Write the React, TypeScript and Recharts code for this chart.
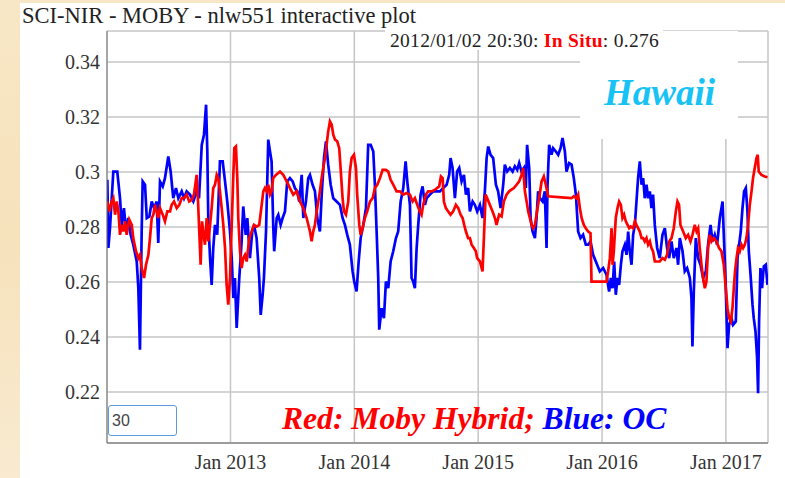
import { LineChart, Line, XAxis, YAxis, CartesianGrid } from 'recharts';

// [decimal year, nLw551]
const OC_POINTS: [number, number][] = [
  [2012.006, 0.2972], [2012.014, 0.2724], [2012.027, 0.2796], [2012.054, 0.3002], [2012.086, 0.3002],
  [2012.108, 0.2905], [2012.122, 0.2808], [2012.14, 0.2869], [2012.157, 0.2784], [2012.175, 0.2833],
  [2012.194, 0.2772], [2012.215, 0.2736], [2012.243, 0.2675], [2012.256, 0.2578], [2012.269, 0.2354],
  [2012.283, 0.2784], [2012.291, 0.2966], [2012.31, 0.2954], [2012.324, 0.2833], [2012.345, 0.2839],
  [2012.364, 0.2893], [2012.383, 0.2869], [2012.404, 0.2893], [2012.417, 0.2742], [2012.431, 0.2966],
  [2012.453, 0.2948], [2012.471, 0.2978], [2012.498, 0.3057], [2012.517, 0.3002], [2012.538, 0.2905],
  [2012.56, 0.2942], [2012.579, 0.2905], [2012.606, 0.293], [2012.625, 0.2905], [2012.646, 0.293],
  [2012.673, 0.2918], [2012.7, 0.2893], [2012.727, 0.293], [2012.746, 0.2905], [2012.768, 0.3099],
  [2012.786, 0.3136], [2012.803, 0.3245], [2012.813, 0.3075], [2012.821, 0.2821], [2012.835, 0.2687],
  [2012.848, 0.259], [2012.861, 0.2724], [2012.875, 0.2808], [2012.893, 0.2772], [2012.915, 0.3039],
  [2012.937, 0.3039], [2012.956, 0.2966], [2012.974, 0.2893], [2012.996, 0.2784], [2013.01, 0.2687],
  [2013.023, 0.2542], [2013.036, 0.2615], [2013.05, 0.2433], [2013.071, 0.2615], [2013.09, 0.2748],
  [2013.103, 0.2875], [2013.123, 0.2772], [2013.136, 0.2833], [2013.157, 0.2687], [2013.176, 0.2784],
  [2013.19, 0.2808], [2013.211, 0.276], [2013.232, 0.2615], [2013.244, 0.2481], [2013.26, 0.2554],
  [2013.27, 0.2615], [2013.287, 0.2784], [2013.305, 0.3118], [2013.319, 0.3075], [2013.332, 0.3039],
  [2013.345, 0.2808], [2013.353, 0.2712], [2013.373, 0.2833], [2013.386, 0.2845], [2013.405, 0.2808],
  [2013.421, 0.2833], [2013.44, 0.2857], [2013.458, 0.2966], [2013.48, 0.2978], [2013.502, 0.2966],
  [2013.52, 0.2942], [2013.539, 0.293], [2013.555, 0.2893], [2013.575, 0.299], [2013.588, 0.2833],
  [2013.609, 0.2893], [2013.628, 0.2978], [2013.642, 0.299], [2013.663, 0.2954], [2013.682, 0.293],
  [2013.701, 0.2833], [2013.722, 0.2784], [2013.738, 0.293], [2013.755, 0.3051], [2013.771, 0.3112],
  [2013.789, 0.3027], [2013.809, 0.2954], [2013.83, 0.2905], [2013.857, 0.2893], [2013.884, 0.2881],
  [2013.905, 0.2833], [2013.924, 0.2808], [2013.943, 0.2772], [2013.964, 0.2736], [2013.986, 0.2639],
  [2013.999, 0.2602], [2014.018, 0.2566], [2014.035, 0.2675], [2014.051, 0.276], [2014.072, 0.2808],
  [2014.094, 0.2869], [2014.112, 0.3099], [2014.132, 0.3099], [2014.153, 0.3075], [2014.166, 0.2954],
  [2014.18, 0.2784], [2014.193, 0.2615], [2014.201, 0.2427], [2014.22, 0.2505], [2014.239, 0.2469],
  [2014.255, 0.2602], [2014.274, 0.2578], [2014.293, 0.2675], [2014.314, 0.2712], [2014.336, 0.276],
  [2014.354, 0.2784], [2014.374, 0.2893], [2014.395, 0.2942], [2014.414, 0.3039], [2014.43, 0.2954],
  [2014.449, 0.2881], [2014.462, 0.2615], [2014.475, 0.2602], [2014.489, 0.2578], [2014.503, 0.2724],
  [2014.516, 0.2808], [2014.535, 0.2918], [2014.551, 0.2948], [2014.57, 0.2881], [2014.584, 0.2905],
  [2014.61, 0.2918], [2014.637, 0.293], [2014.664, 0.293], [2014.691, 0.293], [2014.718, 0.2942],
  [2014.745, 0.2954], [2014.766, 0.299], [2014.777, 0.3051], [2014.793, 0.3015], [2014.812, 0.2905],
  [2014.83, 0.3002], [2014.847, 0.3015], [2014.866, 0.2966], [2014.885, 0.299], [2014.901, 0.2918],
  [2014.919, 0.2942], [2014.933, 0.2857], [2014.955, 0.2893], [2014.973, 0.2881], [2014.992, 0.2857],
  [2015.014, 0.2881], [2015.035, 0.2833], [2015.054, 0.293], [2015.068, 0.3051], [2015.081, 0.3093],
  [2015.1, 0.3063], [2015.121, 0.3051], [2015.143, 0.2954], [2015.161, 0.293], [2015.181, 0.2869],
  [2015.202, 0.2954], [2015.215, 0.3027], [2015.234, 0.3002], [2015.256, 0.3015], [2015.278, 0.3002],
  [2015.296, 0.3021], [2015.315, 0.3008], [2015.331, 0.3033], [2015.35, 0.3002], [2015.369, 0.3015],
  [2015.385, 0.2942], [2015.395, 0.3099], [2015.412, 0.3015], [2015.423, 0.2833], [2015.439, 0.2784],
  [2015.458, 0.276], [2015.471, 0.2833], [2015.484, 0.293], [2015.498, 0.2905], [2015.52, 0.2893],
  [2015.538, 0.293], [2015.552, 0.2724], [2015.56, 0.2954], [2015.573, 0.3099], [2015.592, 0.3063],
  [2015.605, 0.3087], [2015.627, 0.3075], [2015.646, 0.3063], [2015.665, 0.3087], [2015.681, 0.3124],
  [2015.7, 0.3075], [2015.713, 0.3002], [2015.734, 0.3033], [2015.754, 0.3027], [2015.772, 0.2978],
  [2015.789, 0.2918], [2015.807, 0.2784], [2015.826, 0.276], [2015.847, 0.2772], [2015.869, 0.2736],
  [2015.888, 0.2736], [2015.907, 0.2748], [2015.928, 0.2699], [2015.95, 0.2675], [2015.982, 0.2639],
  [2016.009, 0.2651], [2016.036, 0.2627], [2016.057, 0.2566], [2016.071, 0.2615], [2016.085, 0.2578],
  [2016.098, 0.2675], [2016.111, 0.2554], [2016.125, 0.2615], [2016.138, 0.259], [2016.152, 0.2663],
  [2016.165, 0.2712], [2016.184, 0.2736], [2016.198, 0.2699], [2016.211, 0.2784], [2016.224, 0.2712],
  [2016.238, 0.2663], [2016.251, 0.2772], [2016.265, 0.2808], [2016.278, 0.2893], [2016.291, 0.2978],
  [2016.305, 0.3039], [2016.319, 0.2954], [2016.332, 0.2978], [2016.345, 0.2905], [2016.359, 0.2954],
  [2016.372, 0.2905], [2016.386, 0.293], [2016.399, 0.2869], [2016.412, 0.2918], [2016.426, 0.2808],
  [2016.445, 0.2724], [2016.466, 0.2687], [2016.488, 0.2772], [2016.507, 0.2796], [2016.525, 0.2724],
  [2016.542, 0.2687], [2016.561, 0.2748], [2016.579, 0.2687], [2016.601, 0.2724], [2016.614, 0.2663],
  [2016.628, 0.276], [2016.65, 0.2712], [2016.668, 0.2639], [2016.687, 0.2651], [2016.709, 0.2615],
  [2016.722, 0.2542], [2016.73, 0.2366], [2016.741, 0.2566], [2016.757, 0.276], [2016.776, 0.2687],
  [2016.795, 0.2663], [2016.816, 0.2615], [2016.838, 0.2639], [2016.856, 0.2736], [2016.876, 0.2808],
  [2016.892, 0.2748], [2016.91, 0.2772], [2016.929, 0.2736], [2016.951, 0.2833], [2016.973, 0.2893],
  [2016.983, 0.2772], [2016.997, 0.2615], [2017.005, 0.2481], [2017.013, 0.236], [2017.026, 0.2445],
  [2017.045, 0.2469], [2017.058, 0.2445], [2017.08, 0.2457], [2017.094, 0.2687], [2017.107, 0.2736],
  [2017.12, 0.2784], [2017.134, 0.2869], [2017.147, 0.293], [2017.161, 0.2942], [2017.174, 0.2857],
  [2017.185, 0.2712], [2017.199, 0.2627], [2017.215, 0.2518], [2017.225, 0.2469], [2017.239, 0.2421],
  [2017.252, 0.2324], [2017.26, 0.2196], [2017.268, 0.2457], [2017.279, 0.2651], [2017.292, 0.2578],
  [2017.306, 0.2657], [2017.322, 0.2663], [2017.336, 0.259],
];

const HYBRID_POINTS: [number, number][] = [
  [2012.006, 0.2893], [2012.022, 0.2857], [2012.041, 0.2893], [2012.054, 0.2905], [2012.068, 0.2845],
  [2012.082, 0.2893], [2012.095, 0.2857], [2012.108, 0.2772], [2012.122, 0.2808], [2012.135, 0.2784],
  [2012.149, 0.2821], [2012.162, 0.2772], [2012.183, 0.2827], [2012.203, 0.2808], [2012.215, 0.276],
  [2012.237, 0.2712], [2012.256, 0.2687], [2012.269, 0.2699], [2012.283, 0.2651], [2012.302, 0.2615],
  [2012.318, 0.2663], [2012.337, 0.2699], [2012.35, 0.276], [2012.364, 0.2833], [2012.377, 0.2845],
  [2012.391, 0.2881], [2012.404, 0.2857], [2012.417, 0.2833], [2012.431, 0.2869], [2012.453, 0.2845],
  [2012.471, 0.2821], [2012.49, 0.2857], [2012.512, 0.2857], [2012.525, 0.2881], [2012.544, 0.2893],
  [2012.566, 0.2869], [2012.587, 0.2881], [2012.606, 0.2905], [2012.625, 0.2905], [2012.646, 0.2918],
  [2012.667, 0.2893], [2012.687, 0.2899], [2012.705, 0.2918], [2012.727, 0.299], [2012.738, 0.2893],
  [2012.748, 0.2784], [2012.759, 0.2663], [2012.77, 0.2821], [2012.78, 0.2784], [2012.794, 0.2736],
  [2012.808, 0.2833], [2012.821, 0.2748], [2012.835, 0.2808], [2012.848, 0.2869], [2012.861, 0.2942],
  [2012.875, 0.2954], [2012.889, 0.299], [2012.901, 0.2978], [2012.915, 0.293], [2012.929, 0.2869],
  [2012.942, 0.2808], [2012.956, 0.2724], [2012.969, 0.259], [2012.982, 0.2518], [2012.996, 0.2615],
  [2013.01, 0.2808], [2013.023, 0.299], [2013.031, 0.3087], [2013.044, 0.3093], [2013.055, 0.2978],
  [2013.063, 0.2833], [2013.077, 0.2712], [2013.09, 0.2651], [2013.103, 0.2687], [2013.117, 0.2699],
  [2013.131, 0.2675], [2013.152, 0.276], [2013.171, 0.2784], [2013.19, 0.2808], [2013.211, 0.2802],
  [2013.232, 0.2808], [2013.252, 0.2881], [2013.265, 0.293], [2013.278, 0.2942], [2013.292, 0.293],
  [2013.305, 0.2954], [2013.319, 0.2918], [2013.332, 0.293], [2013.345, 0.2978], [2013.367, 0.299],
  [2013.4, 0.3002], [2013.426, 0.299], [2013.454, 0.2966], [2013.48, 0.2942], [2013.507, 0.2918],
  [2013.534, 0.293], [2013.561, 0.2893], [2013.588, 0.2869], [2013.615, 0.2833], [2013.642, 0.2784],
  [2013.655, 0.2748], [2013.668, 0.2784], [2013.682, 0.2808], [2013.696, 0.2857], [2013.709, 0.2893],
  [2013.722, 0.293], [2013.736, 0.2978], [2013.749, 0.3015], [2013.763, 0.3051], [2013.776, 0.3099],
  [2013.789, 0.3148], [2013.803, 0.3184], [2013.817, 0.3172], [2013.83, 0.3136], [2013.844, 0.3118],
  [2013.862, 0.3112], [2013.878, 0.3087], [2013.889, 0.3015], [2013.905, 0.2905], [2013.916, 0.2857],
  [2013.932, 0.2845], [2013.951, 0.2893], [2013.964, 0.3002], [2013.978, 0.3051], [2013.997, 0.3063],
  [2014.013, 0.3015], [2014.023, 0.2918], [2014.04, 0.2808], [2014.051, 0.2772], [2014.067, 0.2796],
  [2014.085, 0.2833], [2014.104, 0.2857], [2014.126, 0.2893], [2014.148, 0.2905], [2014.166, 0.2942],
  [2014.185, 0.2954], [2014.207, 0.2978], [2014.228, 0.3008], [2014.255, 0.3008], [2014.274, 0.3002],
  [2014.293, 0.2972], [2014.314, 0.2954], [2014.341, 0.293], [2014.368, 0.293], [2014.395, 0.2918],
  [2014.422, 0.2924], [2014.449, 0.2918], [2014.47, 0.2893], [2014.489, 0.2905], [2014.508, 0.2881],
  [2014.529, 0.2857], [2014.543, 0.2845], [2014.556, 0.2881], [2014.578, 0.2918], [2014.596, 0.293],
  [2014.624, 0.293], [2014.651, 0.2936], [2014.685, 0.2948], [2014.699, 0.2984], [2014.713, 0.2978],
  [2014.723, 0.2893], [2014.739, 0.2869], [2014.758, 0.2857], [2014.777, 0.2845], [2014.798, 0.2857],
  [2014.82, 0.2881], [2014.839, 0.2869], [2014.858, 0.2845], [2014.874, 0.2833], [2014.887, 0.2808],
  [2014.901, 0.2784], [2014.919, 0.276], [2014.933, 0.276], [2014.947, 0.2736], [2014.965, 0.2724],
  [2014.981, 0.2712], [2014.992, 0.2687], [2015.014, 0.2675], [2015.035, 0.2639], [2015.046, 0.276],
  [2015.06, 0.2918], [2015.073, 0.2905], [2015.094, 0.2881], [2015.116, 0.2857], [2015.135, 0.2833],
  [2015.148, 0.2808], [2015.169, 0.2845], [2015.189, 0.2839], [2015.207, 0.2893], [2015.229, 0.2918],
  [2015.25, 0.293], [2015.269, 0.2936], [2015.288, 0.2942], [2015.31, 0.2954], [2015.331, 0.2966],
  [2015.35, 0.299], [2015.363, 0.3015], [2015.377, 0.293], [2015.391, 0.2893], [2015.404, 0.2857],
  [2015.417, 0.2833], [2015.431, 0.2808], [2015.444, 0.2796], [2015.458, 0.2808], [2015.471, 0.2845],
  [2015.492, 0.2905], [2015.512, 0.2966], [2015.53, 0.2984], [2015.546, 0.2954], [2015.565, 0.2912],
  [2015.673, 0.2908], [2015.754, 0.2905], [2015.772, 0.2912], [2015.794, 0.2905], [2015.807, 0.2918],
  [2015.821, 0.2869], [2015.835, 0.2833], [2015.853, 0.2808], [2015.869, 0.2796], [2015.888, 0.2784],
  [2015.907, 0.2778], [2015.915, 0.2602], [2016.036, 0.2602], [2016.049, 0.2639], [2016.063, 0.2687],
  [2016.077, 0.2796], [2016.085, 0.2663], [2016.095, 0.2712], [2016.111, 0.2833], [2016.125, 0.2869],
  [2016.138, 0.2893], [2016.152, 0.2881], [2016.165, 0.2833], [2016.178, 0.2845], [2016.192, 0.2821],
  [2016.206, 0.2808], [2016.219, 0.2796], [2016.232, 0.2802], [2016.251, 0.2796], [2016.265, 0.2821],
  [2016.278, 0.2808], [2016.291, 0.2796], [2016.305, 0.2784], [2016.319, 0.276], [2016.332, 0.276],
  [2016.345, 0.2748], [2016.359, 0.276], [2016.372, 0.2736], [2016.386, 0.2748], [2016.399, 0.2724],
  [2016.412, 0.2712], [2016.426, 0.2675], [2016.445, 0.2675], [2016.466, 0.2675], [2016.488, 0.2687],
  [2016.507, 0.2681], [2016.525, 0.2699], [2016.542, 0.2748], [2016.561, 0.276], [2016.579, 0.2796],
  [2016.596, 0.2857], [2016.609, 0.2893], [2016.622, 0.2881], [2016.633, 0.2808], [2016.655, 0.2784],
  [2016.676, 0.276], [2016.695, 0.2772], [2016.714, 0.2748], [2016.73, 0.2772], [2016.749, 0.2808],
  [2016.763, 0.2784], [2016.776, 0.2796], [2016.789, 0.2724], [2016.803, 0.2663], [2016.816, 0.2615],
  [2016.83, 0.2578], [2016.843, 0.2602], [2016.856, 0.2724], [2016.87, 0.2772], [2016.884, 0.2748],
  [2016.902, 0.276], [2016.924, 0.2748], [2016.945, 0.2724], [2016.964, 0.2712], [2016.983, 0.2663],
  [2016.999, 0.2578], [2017.013, 0.2505], [2017.026, 0.2469], [2017.04, 0.2457], [2017.053, 0.2505],
  [2017.064, 0.2578], [2017.074, 0.2639], [2017.086, 0.2687], [2017.098, 0.2724], [2017.112, 0.2712],
  [2017.126, 0.2736], [2017.139, 0.2724], [2017.153, 0.2736], [2017.166, 0.276], [2017.179, 0.2808],
  [2017.193, 0.2881], [2017.207, 0.293], [2017.219, 0.2978], [2017.233, 0.3015], [2017.247, 0.3051],
  [2017.257, 0.3063], [2017.265, 0.3002], [2017.287, 0.299], [2017.314, 0.2984], [2017.336, 0.2981],
];

const YEAR_TICKS = [2013, 2014, 2015, 2016, 2017];
const VALUE_TICKS = [0.22, 0.24, 0.26, 0.28, 0.3, 0.32, 0.34];

const toRows = (pts: [number, number][]) => pts.map(([t, v]) => ({ t, v }));

const SERIF = '"Liberation Serif", "Times New Roman", serif';
const tickStyle = { fill: '#333', fontSize: 20, fontFamily: SERIF };

export default function App() {
  return (
    <div
      style={{
        position: 'absolute',
        left: 0,
        top: 0,
        width: 785,
        height: 478,
        overflow: 'hidden',
        background: 'linear-gradient(180deg, #f8e7c6 0%, #f6e2bb 50%, #f9ead0 100%)',
        fontFamily: SERIF,
      }}
    >
      <div style={{ position: 'absolute', left: 20, top: 3, right: 0, bottom: 0, background: '#fff' }} />
      <div style={{ position: 'absolute', left: 0, top: 0 }}>
        <LineChart width={785} height={478} margin={{ top: 31, right: 17, bottom: 5, left: 47 }}>
          <CartesianGrid stroke="#c6c6c6" strokeWidth={1.5} />
          <XAxis
            type="number"
            dataKey="t"
            domain={[2012.003, 2017.34]}
            ticks={YEAR_TICKS}
            allowDataOverflow
            tickFormatter={(y: number) => `Jan ${y}`}
            tick={tickStyle}
            tickLine={false}
            tickSize={0}
            tickMargin={12}
            height={30}
            axisLine={{ stroke: '#8a8a8a', strokeWidth: 1.5 }}
          />
          <YAxis
            type="number"
            domain={[0.2015, 0.3513]}
            ticks={VALUE_TICKS}
            allowDataOverflow
            tickFormatter={(v: number) => String(+v.toFixed(2))}
            tick={tickStyle}
            tickLine={false}
            tickSize={0}
            tickMargin={7}
            width={60}
            axisLine={{ stroke: '#777', strokeWidth: 1 }}
          />
          <Line
            data={toRows(OC_POINTS)}
            dataKey="v"
            type="linear"
            stroke="#0000ff"
            strokeWidth={2.7}
            dot={false}
            isAnimationActive={false}
          />
          <Line
            data={toRows(HYBRID_POINTS)}
            dataKey="v"
            type="linear"
            stroke="#ff0000"
            strokeWidth={2.7}
            dot={false}
            isAnimationActive={false}
          />
        </LineChart>
      </div>

      {/* title */}
      <div style={{ position: 'absolute', left: 22, top: 5, fontSize: 22.5, lineHeight: '22px', color: '#222', whiteSpace: 'nowrap' }}>
        SCI-NIR - MOBY - nlw551 interactive plot
      </div>

      {/* site label */}
      <div style={{ position: 'absolute', left: 580, top: 31, width: 158, height: 108, background: '#fff' }}>
        <div
          style={{
            position: 'absolute',
            left: 24,
            top: 43,
            fontSize: 37,
            lineHeight: '37px',
            fontWeight: 'bold',
            fontStyle: 'italic',
            color: '#17c3f5',
          }}
        >
          Hawaii
        </div>
      </div>

      {/* hover readout */}
      <div
        style={{
          position: 'absolute',
          left: 385,
          top: 30,
          height: 20,
          background: '#fff',
          fontSize: 19.5,
          lineHeight: '21px',
          letterSpacing: 0.3,
          color: '#222',
          paddingLeft: 5,
          paddingRight: 4,
          whiteSpace: 'nowrap',
        }}
      >
        2012/01/02 20:30: <b style={{ color: '#ff0000' }}>In Situ</b>: 0.276
      </div>

      {/* smoothing box */}
      <div
        style={{
          position: 'absolute',
          left: 108,
          top: 405,
          width: 64,
          height: 29,
          border: '1.5px solid #5b9be0',
          borderRadius: 3,
          fontFamily: '"Liberation Sans", Arial, sans-serif',
          fontSize: 16,
          lineHeight: '29px',
          color: '#444',
          paddingLeft: 3,
          background: '#fff',
        }}
      >
        30
      </div>

      {/* legend */}
      <div
        style={{
          position: 'absolute',
          left: 282,
          top: 403,
          fontSize: 31.6,
          lineHeight: '31px',
          fontWeight: 'bold',
          fontStyle: 'italic',
          whiteSpace: 'nowrap',
        }}
      >
        <span style={{ color: '#ff0000' }}>Red: Moby Hybrid; </span>
        <span style={{ color: '#0000ff' }}>Blue: OC</span>
      </div>
    </div>
  );
}
